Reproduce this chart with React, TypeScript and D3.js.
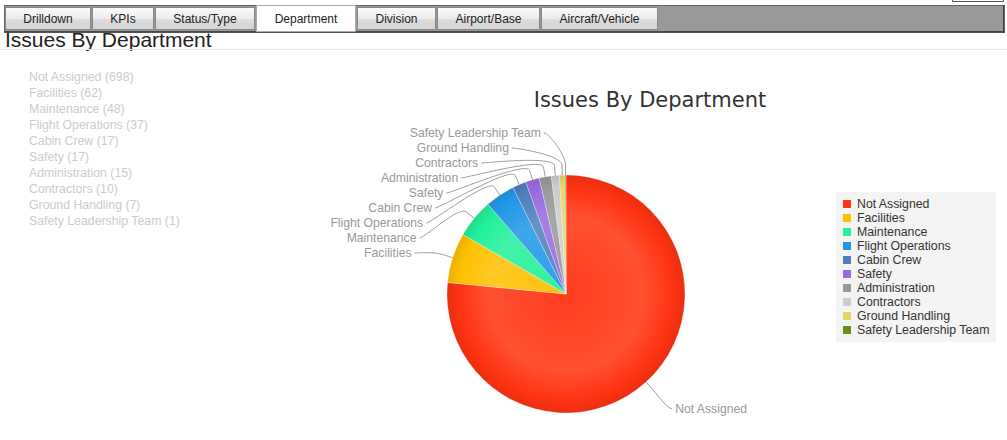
import React, { useEffect, useRef } from 'react';
import * as d3 from 'd3';

const tabs = ['Drilldown', 'KPIs', 'Status/Type', 'Department', 'Division', 'Airport/Base', 'Aircraft/Vehicle'];
const activeTab = 'Department';

const pageTitle = 'Issues By Department';
const chartTitle = 'Issues By Department';

const departments = [
  'Not Assigned',
  'Facilities',
  'Maintenance',
  'Flight Operations',
  'Cabin Crew',
  'Safety',
  'Administration',
  'Contractors',
  'Ground Handling',
  'Safety Leadership Team',
];
const counts = [698, 62, 48, 37, 17, 17, 15, 10, 7, 1];
const colors = [
  '#ff3311',
  '#ffc000',
  '#22f09a',
  '#2298e8',
  '#4f7fbd',
  '#9a6be0',
  '#999999',
  '#cccccc',
  '#e8d56a',
  '#6b8e1e',
];

const W = 1007;
const H = 440;

const App: React.FC = () => {
  const svgRef = useRef<SVGSVGElement>(null);

  useEffect(() => {
    if (!svgRef.current) return;
    const svg = d3.select(svgRef.current);
    svg.selectAll('*').remove();

    const defs = svg.append('defs');
    const arial = 'Arial, "Liberation Sans", sans-serif';

    // ---- tab strip ----
    const tg = defs.append('linearGradient').attr('id', 'tabGrad').attr('x1', 0).attr('y1', 0).attr('x2', 0).attr('y2', 1);
    tg.append('stop').attr('offset', 0).attr('stop-color', '#fbfbfb');
    tg.append('stop').attr('offset', 0.5).attr('stop-color', '#ececec');
    tg.append('stop').attr('offset', 0.55).attr('stop-color', '#dcdcdc');
    tg.append('stop').attr('offset', 1).attr('stop-color', '#d4d4d4');

    svg.append('rect')
      .attr('x', 4.5).attr('y', 5.5).attr('width', 999).attr('height', 26.5)
      .attr('fill', '#999').attr('stroke', '#666');
    svg.append('line')
      .attr('x1', 4).attr('x2', 1004).attr('y1', 32).attr('y2', 32)
      .attr('stroke', '#333').attr('stroke-width', 1.5);
    svg.append('line')
      .attr('x1', 1004).attr('x2', 1004).attr('y1', 5).attr('y2', 33)
      .attr('stroke', '#333').attr('stroke-width', 1.5);
    svg.append('path')
      .attr('d', 'M952.5,0 V1.5 H1003.5 V0')
      .attr('fill', 'none').attr('stroke', '#555');

    let tx = 5;
    tabs.forEach((t) => {
      const active = t === activeTab;
      const g = svg.append('g');
      const label = g.append('text')
        .attr('y', 23)
        .attr('text-anchor', 'middle')
        .attr('font-family', arial)
        .attr('font-size', 12)
        .attr('fill', '#222')
        .text(t);
      const tw = (label.node() as SVGTextElement).getComputedTextLength();
      const w = Math.round(tw + 37);
      g.insert('rect', 'text')
        .attr('x', tx + 0.5)
        .attr('y', active ? 5.5 : 7.5)
        .attr('width', w - 1)
        .attr('height', active ? 26 : 22)
        .attr('fill', active ? '#fff' : 'url(#tabGrad)')
        .attr('stroke', active ? '#aaa' : '#8a8a8a');
      label.attr('x', tx + w / 2);
      tx += w + 1;
    });

    // ---- page title ----
    svg.append('text')
      .attr('x', 5).attr('y', 47)
      .attr('font-family', arial).attr('font-size', 21)
      .attr('fill', '#222')
      .text(pageTitle);
    svg.append('line')
      .attr('x1', 0).attr('x2', W).attr('y1', 49.5).attr('y2', 49.5)
      .attr('stroke', '#e6e6e6');

    // ---- left text list ----
    svg.append('g').selectAll('text')
      .data(departments)
      .join('text')
      .attr('x', 29)
      .attr('y', (_, i) => 81 + i * 16)
      .attr('font-family', arial).attr('font-size', 12.3)
      .attr('fill', '#cccccc')
      .text((d, i) => `${d} (${counts[i]})`);

    // ---- chart title ----
    svg.append('text')
      .attr('x', 650).attr('y', 107)
      .attr('text-anchor', 'middle')
      .attr('font-family', '"DejaVu Sans", Verdana, sans-serif')
      .attr('font-size', 21)
      .attr('fill', '#333')
      .text(chartTitle);

    // ---- pie ----
    const cx = 566;
    const cy = 294;
    const r = 119;

    const pie = d3.pie<number>().sort(null).value((d) => d);
    const arcs = pie(counts);
    const arc = d3.arc<d3.PieArcDatum<number>>().innerRadius(0).outerRadius(r);

    colors.forEach((c, i) => {
      const base = d3.rgb(c);
      const mix = (t: number) => d3.interpolateRgb(base, '#ffffff')(t);
      const rg = defs.append('radialGradient')
        .attr('id', `sg${i}`)
        .attr('gradientUnits', 'userSpaceOnUse')
        .attr('cx', 0).attr('cy', 0).attr('r', r);
      rg.append('stop').attr('offset', 0).attr('stop-color', mix(0.05));
      rg.append('stop').attr('offset', 0.65).attr('stop-color', mix(0.14));
      rg.append('stop').attr('offset', 0.9).attr('stop-color', base.formatHex());
      rg.append('stop').attr('offset', 1).attr('stop-color', base.darker(0.25).formatHex());
    });

    const pieG = svg.append('g').attr('transform', `translate(${cx},${cy})`);
    pieG.selectAll('path')
      .data(arcs)
      .join('path')
      .attr('d', arc)
      .attr('fill', (_, i) => `url(#sg${i})`)
      .attr('stroke', 'rgba(255,255,255,0.35)')
      .attr('stroke-width', 0.8)
      .attr('stroke-linejoin', 'round');

    // ---- data labels with connectors ----
    const labelR = r + 36;
    const breakR = r + 10;
    const gap = 15;
    const labelTop = 133;

    type L = { i: number; mid: number; side: number; ny: number; y: number };
    const labels: L[] = arcs.map((a, i) => {
      const mid = (a.startAngle + a.endAngle) / 2;
      return {
        i,
        mid,
        side: Math.sin(mid) < 0 ? -1 : 1,
        ny: cy - Math.cos(mid) * labelR,
        y: 0,
      };
    });

    [-1, 1].forEach((side) => {
      const list = labels.filter((l) => l.side === side).sort((a, b) => a.ny - b.ny);
      let groups = list.map((l) => ({ items: [l], top: l.ny }));
      let merged = true;
      while (merged) {
        merged = false;
        for (let k = 0; k < groups.length - 1; k++) {
          const a = groups[k];
          const b = groups[k + 1];
          if (a.top + a.items.length * gap > b.top) {
            const items = a.items.concat(b.items);
            const mean = d3.mean(items, (d) => d.ny)!;
            groups.splice(k, 2, { items, top: mean - ((items.length - 1) * gap) / 2 });
            merged = true;
            break;
          }
        }
      }
      let prevBottom = labelTop;
      groups.forEach((g) => {
        const top = Math.max(g.top, prevBottom);
        g.items.forEach((l, j) => { l.y = top + j * gap; });
        prevBottom = top + g.items.length * gap;
      });
    });

    const lg = svg.append('g');
    labels.forEach((l) => {
      const dy = l.y - cy;
      let ax = cx + l.side * Math.sqrt(Math.max(0, labelR * labelR - dy * dy));
      if (l.side < 0) ax = Math.min(ax, cx - 20);
      else ax = Math.max(ax, cx + 20);
      const bx = cx + Math.sin(l.mid) * breakR;
      const by = cy - Math.cos(l.mid) * breakR;
      const ex = cx + Math.sin(l.mid) * r;
      const ey = cy - Math.cos(l.mid) * r;
      const path = d3.path();
      path.moveTo(ax + l.side * 2, l.y);
      path.bezierCurveTo(ax - l.side * 3, l.y, 2 * bx - ex, 2 * by - ey, bx, by);
      path.lineTo(ex, ey);
      lg.append('path')
        .attr('d', path.toString())
        .attr('fill', 'none')
        .attr('stroke', '#a0a0a0')
        .attr('stroke-width', 1);
      lg.append('text')
        .attr('x', ax + l.side * 5)
        .attr('y', l.y + 4)
        .attr('text-anchor', l.side < 0 ? 'end' : 'start')
        .attr('font-family', arial)
        .attr('font-size', 12.2)
        .attr('fill', '#999')
        .text(departments[l.i]);
    });

    // ---- legend ----
    const leg = svg.append('g').attr('transform', 'translate(836,192)');
    leg.append('rect')
      .attr('width', 160).attr('height', 150)
      .attr('fill', '#f4f4f4');
    const rows = leg.selectAll('g.item')
      .data(departments)
      .join('g')
      .attr('class', 'item')
      .attr('transform', (_, i) => `translate(0,${12 + i * 14})`);
    rows.append('rect')
      .attr('x', 7).attr('y', -4)
      .attr('width', 8).attr('height', 8)
      .attr('fill', (_, i) => colors[i]);
    rows.append('text')
      .attr('x', 21).attr('y', 4)
      .attr('font-family', arial).attr('font-size', 12.3)
      .attr('fill', '#333')
      .text((d) => d);
  }, []);

  return (
    <svg
      ref={svgRef}
      width={W}
      height={H}
      style={{ position: 'absolute', left: 0, top: 0, background: '#fff' }}
    />
  );
};

export default App;
